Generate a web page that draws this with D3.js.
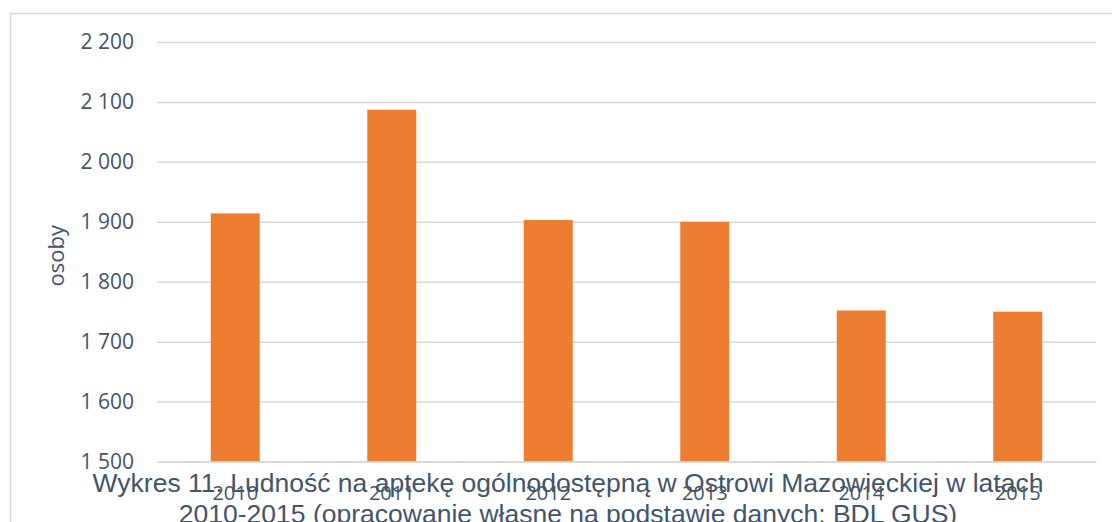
<!DOCTYPE html>
<html>
<head>
<meta charset="utf-8">
<script src="https://cdn.jsdelivr.net/npm/d3@7"></script>
<style>
  body { margin: 0; background: #fff; }
  svg { display: block; }
  .tick-label { font-family: "Open Sans", sans-serif; font-size: 21px; fill: #44546a; }
  .caption { font-family: "Liberation Sans", Arial, sans-serif; font-size: 26.5px; fill: #44546a; }
</style>
</head>
<body>
<svg id="chart" width="1112" height="522"></svg>
<script>
// dane: ludnosc na apteke ogolnodostepna
var years = ["2010", "2011", "2012", "2013", "2014", "2015"];
var values = [1914, 2087, 1903, 1900, 1752, 1750];
var yTicks = [1500, 1600, 1700, 1800, 1900, 2000, 2100, 2200];
var captionLines = [
  "Wykres 11. Ludność na aptekę ogólnodostępną w Ostrowi Mazowieckiej w latach",
  "2010-2015 (opracowanie własne na podstawie danych: BDL GUS)"
];

var svg = d3.select("svg#chart"),
    margin = {top: 42, right: 16, bottom: 60.5, left: 157},
    width = +svg.attr("width") - margin.left - margin.right,
    height = +svg.attr("height") - margin.top - margin.bottom;

// ramka wykresu
svg.append("rect")
    .attr("x", 10.5)
    .attr("y", 13.5)
    .attr("width", 1110)
    .attr("height", 520)
    .attr("fill", "none")
    .attr("stroke", "#d9d9d9")
    .attr("stroke-width", 1.5);

var x = d3.scaleBand().domain(years).range([0, width]).paddingInner(0.687).paddingOuter(0.3435);
var y = d3.scaleLinear().domain([1500, 2200]).range([height, 0]);

var g = svg.append("g")
    .attr("transform", "translate(" + margin.left + "," + margin.top + ")");

// linie siatki + etykiety osi Y
var yAxis = g.append("g")
    .call(d3.axisLeft(y).tickValues(yTicks).tickSize(-width).tickPadding(23)
      .tickFormat(function(d) { return d3.format(",")(d).replace(",", " "); }));
yAxis.select(".domain").remove();
yAxis.selectAll(".tick line").attr("stroke", "#d9d9d9").attr("stroke-width", 1.5);
yAxis.selectAll(".tick text").attr("class", "tick-label").attr("fill", null);

g.append("text")
    .attr("class", "tick-label")
    .attr("transform", "translate(" + (-93) + "," + (height / 2 + 4) + ") rotate(-90)")
    .attr("text-anchor", "middle")
    .style("font-size", "22px")
    .text("osoby");

g.selectAll(".bar")
    .data(values)
  .enter().append("rect")
    .attr("class", "bar")
    .attr("x", function(d, i) { return x(years[i]); })
    .attr("y", function(d) { return y(d); })
    .attr("width", x.bandwidth())
    .attr("height", function(d) { return height - y(d); })
    .attr("fill", "#ed7d31");

// os X
var xAxis = g.append("g")
    .attr("transform", "translate(0," + height + ")")
    .call(d3.axisBottom(x).tickSize(0).tickPadding(24));
xAxis.select(".domain").attr("stroke", "#d9d9d9").attr("stroke-width", 1.5);
xAxis.selectAll(".tick text").attr("class", "tick-label").attr("fill", null).style("font-size", "20px");

// podpis
svg.selectAll(".caption")
    .data(captionLines)
  .enter().append("text")
    .attr("class", "caption")
    .attr("x", 568)
    .attr("y", function(d, i) { return 492 + i * 31; })
    .attr("text-anchor", "middle")
    .text(function(d) { return d; });
</script>
</body>
</html>
